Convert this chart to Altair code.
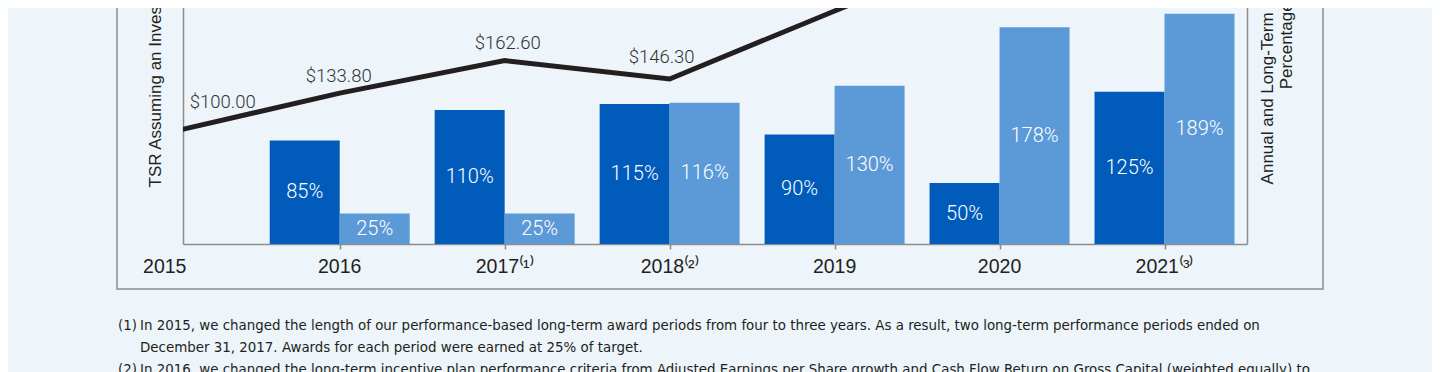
import altair as alt
import pandas as pd

# ---------------- data ----------------
YEARS = [2015, 2016, 2017, 2018, 2019, 2020, 2021]
YEAR_LABELS = ["2015", "2016", "2017⁽¹⁾", "2018⁽²⁾", "2019", "2020", "2021⁽³⁾"]
TSR = [100.00, 133.80, 162.60, 146.30, 206.60, 266.00, 320.00]
TSR_LABELS = ["$100.00", "$133.80", "$162.60", "$146.30", "$206.60", "$266.00", "$320.00"]

BAR_YEARS = [2016, 2017, 2018, 2019, 2020, 2021]
ANNUAL = [85, 110, 115, 90, 50, 125]
LTIP = [25, 25, 116, 130, 178, 189]
SERIES = ["Annual Incentive", "Long-Term Incentive"]

LEFT_TITLE = "TSR Assuming an Investment of $100"
RIGHT_TITLE = ["Annual and Long-Term Incentive Payouts as a", "Percentage of Target"]

FOOTNOTES = [
    ("(1)", [
        "In 2015, we changed the length of our performance-based long-term award periods from four to three years. As a result, two long-term performance periods ended on",
        "December 31, 2017. Awards for each period were earned at 25% of target.",
    ]),
    ("(2)", [
        "In 2016, we changed the long-term incentive plan performance criteria from Adjusted Earnings per Share growth and Cash Flow Return on Gross Capital (weighted equally) to",
    ]),
]

# ---------------- style / layout ----------------
BG = "#EDF4FA"
INK = "#231F20"
GRAY = "#8C8C8C"
DARK = "#005BBB"
LIGHT = "#5B9AD6"
SANS = "Liberation Sans"
LIGHTFONT = "Roboto"
NOTEFONT = "DejaVu Sans Condensed"
NOTESIZE = 14.9

W, H = 1064, 468
PAD_L, PAD_T = 175, -232
SVG_W, SVG_H = 1424, 364
PAD_R = SVG_W - PAD_L - W
PAD_B = SVG_H - (PAD_T + H)

BAR_W = 0.4243
PX_PER_DOLLAR = 1.128
PX_PER_PCT = 1.218

line_df = pd.DataFrame({"year": YEARS, "tsr": TSR, "tsr_label": TSR_LABELS})
label_df = pd.DataFrame({"year": YEARS, "label": YEAR_LABELS})
bar_df = pd.DataFrame({
    "year": BAR_YEARS * 2,
    "series": [SERIES[0]] * len(BAR_YEARS) + [SERIES[1]] * len(BAR_YEARS),
    "pct": ANNUAL + LTIP,
})

x_scale = alt.Scale(domain=[2015.05, 2021.5], nice=False, zero=False)
x_axis = alt.Axis(values=BAR_YEARS, labels=False, ticks=True, tickSize=5,
                  tickColor=GRAY, tickWidth=1.5, domainColor=GRAY, domainWidth=1.5,
                  grid=False, title=None)

tsr_scale = alt.Scale(domain=[0, H / PX_PER_DOLLAR], nice=False, zero=True)
tsr_axis = alt.Axis(orient="left", labels=False, ticks=False, grid=False,
                    domainColor=GRAY, domainWidth=1.5, title=LEFT_TITLE,
                    titleAngle=270, titleX=-23, titleY=411, titleAlign="left",
                    titleBaseline="alphabetic", titleFont=SANS, titleFontSize=17,
                    titleFontWeight="normal", titleColor=INK)

pct_scale = alt.Scale(domain=[0, H / PX_PER_PCT], nice=False, zero=True)
pct_axis = alt.Axis(orient="right", labels=False, ticks=False, grid=False,
                    domainColor=GRAY, domainWidth=1.5, title=RIGHT_TITLE,
                    titleAngle=270, titleX=25, titleY=H / 2, titleAlign="center",
                    titleBaseline="alphabetic", titleFont=SANS, titleFontSize=17,
                    titleFontWeight="normal", titleColor=INK, titleLineHeight=19)

X = alt.X("year:Q", scale=x_scale, axis=x_axis)

# ---------------- TSR group ----------------
line = alt.Chart(line_df).mark_line(color=INK, strokeWidth=5, clip=True).encode(
    x=X, y=alt.Y("tsr:Q", scale=tsr_scale, axis=tsr_axis)
)

NUDGE = {  # align, dx, dy for the TSR value labels
    2015: ("left", 15, -23),
    2016: ("center", -1, -11),
    2017: ("center", 3, -12),
    2018: ("center", -8, -16),
    2019: ("center", -32, -10),
    2020: ("center", -20, -12),
    2021: ("center", -20, -12),
}
tsr_labels = []
for yr in YEARS:
    al, dx, dy = NUDGE[yr]
    tsr_labels.append(
        alt.Chart(line_df).transform_filter(f"datum.year == {yr}")
        .mark_text(align=al, dx=dx, dy=dy, baseline="alphabetic", font=LIGHTFONT,
                   fontWeight=300, fontSize=18.5, color="#333333")
        .encode(x=X, y=alt.Y("tsr:Q", scale=tsr_scale, axis=tsr_axis), text="tsr_label:N")
    )

year_text = alt.Chart(label_df).transform_filter("datum.year > 2015").mark_text(
    align="center", baseline="alphabetic", dy=29, font=SANS, fontSize=19.5, color=INK
).encode(x=X, y=alt.datum(0), text="label:N")
year_text_2015 = alt.Chart(label_df).transform_filter("datum.year == 2015").mark_text(
    align="center", baseline="alphabetic", dy=29, dx=-10, font=SANS, fontSize=19.5, color=INK
).encode(x=X, y=alt.datum(0), text="label:N")

tsr_group = alt.layer(line, *tsr_labels, year_text, year_text_2015)

# ---------------- percent group ----------------
bars_base = alt.Chart(bar_df).transform_calculate(
    x0=f"datum.series == '{SERIES[0]}' ? datum.year - {BAR_W} : datum.year"
).transform_calculate(
    x1=f"datum.x0 + {BAR_W}",
    xm=f"datum.x0 + {BAR_W / 2}",
    mid="datum.pct / 2",
    lab="datum.pct + '%'",
)
bars = bars_base.mark_rect().encode(
    x=alt.X("x0:Q", scale=x_scale, axis=x_axis),
    x2="x1:Q",
    y=alt.Y("pct:Q", scale=pct_scale, axis=pct_axis),
    y2=alt.datum(0),
    color=alt.Color("series:N", scale=alt.Scale(domain=SERIES, range=[DARK, LIGHT]), legend=None),
)
bar_labels = bars_base.mark_text(
    color="white", font=LIGHTFONT, fontWeight=300, fontSize=20, baseline="middle", align="center"
).encode(
    x=alt.X("xm:Q", scale=x_scale, axis=x_axis),
    y=alt.Y("mid:Q", scale=pct_scale, axis=pct_axis),
    text="lab:N",
)
pct_group = alt.layer(bars, bar_labels)

# ---------------- frame and footnotes ----------------
one = pd.DataFrame({"k": [0]})
frame = alt.Chart(one).mark_rect(fillOpacity=0, stroke=GRAY, strokeWidth=1.5).encode(
    x=alt.value(-66), x2=alt.value(1140), y=alt.value(-40), y2=alt.value(513)
)

notes = []
line_no = 0
for marker, lines in FOOTNOTES:
    notes.append(
        alt.Chart(one).mark_text(text=marker, align="left", baseline="alphabetic",
                                 font=NOTEFONT, fontSize=NOTESIZE, color=INK)
        .encode(x=alt.value(-65), y=alt.value(554 + 22 * line_no))
    )
    for ln in lines:
        notes.append(
            alt.Chart(one).mark_text(text=ln, align="left", baseline="alphabetic",
                                     font=NOTEFONT, fontSize=NOTESIZE, color=INK)
            .encode(x=alt.value(-43), y=alt.value(554 + 22 * line_no))
        )
        line_no += 1

chart = alt.layer(tsr_group, pct_group, frame, *notes).resolve_scale(
    y="independent"
).properties(
    width=W,
    height=H,
    padding={"left": PAD_L, "top": PAD_T, "right": PAD_R, "bottom": PAD_B},
    autosize=alt.AutoSizeParams(type="none"),
    background=BG,
).configure_view(strokeWidth=0)

chart.save("out.html", embed_options={"renderer": "svg", "actions": False})
